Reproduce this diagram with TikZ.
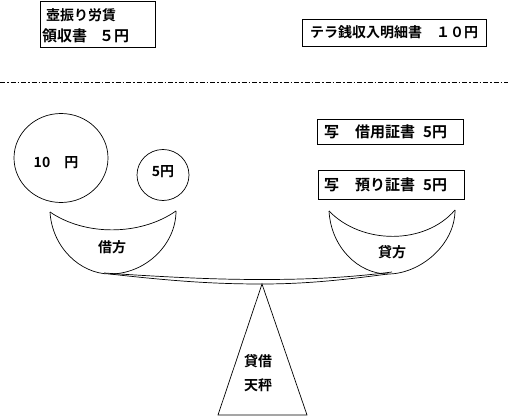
\documentclass[tikz,border=0pt]{standalone}
\usepackage{fontspec}
\newfontfamily\jp{Noto Sans CJK JP}[BoldFont={Noto Sans CJK JP Bold}]
\usetikzlibrary{shapes.geometric}
\begin{document}
\begin{tikzpicture}[x=1pt,y=-1pt,
  every node/.style={font=\jp\bfseries\fontsize{14}{17}\selectfont, inner sep=0pt},
  frame/.style={draw=black, line width=0.8pt, rectangle, anchor=north west},
  txt/.style={anchor=west},
  bigtxt/.style={anchor=west, font=\jp\bfseries\fontsize{15}{18}\selectfont},
  coin/.style={draw=black, line width=0.7pt, ellipse},
  shape line/.style={draw=black, line width=0.7pt}
]
\useasboundingbox (0,0) rectangle (510,419);
\fill[white] (0,0) rectangle (510,419);

% boxes
\node[frame, minimum width=115pt, minimum height=46pt] (b1) at (40,1) {};
\node[txt] (t1a) at (46,15) {壺振り労賃};
\node[bigtxt] (t1b) at (42,36) {領収書\hspace{12pt}５円};

\node[frame, minimum width=184pt, minimum height=27pt] (b2) at (302,19) {};
\node[txt] (t2) at (310,32) {テラ銭収入明細書　１０円};

\node[frame, minimum width=146pt, minimum height=25pt] (b3) at (317,119) {};
\node[bigtxt] (t3) at (324,131.5) {写\hspace{16pt}借用証書\hspace{8pt}5円};

\node[frame, minimum width=146pt, minimum height=29pt] (b4) at (318,170) {};
\node[bigtxt] (t4) at (324,184.5) {写\hspace{16pt}預り証書\hspace{8pt}5円};

% dash-dot separator
\coordinate (sepL) at (0,82);
\coordinate (sepR) at (508,82);
\draw[line width=0.8pt, dash pattern=on 5pt off 2pt on 1.5pt off 2pt] (sepL) -- (sepR);

% coins
\node[coin, minimum width=94pt, minimum height=89pt] (c1) at (61,158) {};
\node (c1t) at (56,163) {10　円};
\node[coin, minimum width=52pt, minimum height=51pt] (c2) at (163,175) {};
\node (c2t) at (163,172) {5円};

% left pan
\coordinate (LA) at (50,212);
\coordinate (LB) at (176,211);
\coordinate (LBot) at (110,274);
\draw[shape line] (LA) .. controls (85,236) and (140,236) .. (LB);
\draw[shape line] (LA) .. controls (52,247) and (80,274) .. (LBot) .. controls (145,274) and (176,245) .. (LB);
\node (lt) at (112,247) {借方};

% right pan
\coordinate (RA) at (329,211);
\coordinate (RB) at (455,210);
\coordinate (RBot) at (388,274);
\draw[shape line] (RA) .. controls (362,245) and (425,245) .. (RB);
\draw[shape line] (RA) .. controls (331,247) and (358,274) .. (RBot) .. controls (420,274) and (455,245) .. (RB);
\node (rt) at (392,252) {貸方};

% beam
\coordinate (apex) at (262,284);
\draw[shape line] (104,273) .. controls (180,278) and (220,279.5) .. (262,279.5) .. controls (310,279.5) and (350,277.5) .. (392,272);
\draw[shape line] (LBot) .. controls (180,282) and (220,284) .. (apex) .. controls (310,284) and (350,279) .. (RBot);

% fulcrum
\coordinate (baseL) at (218,415);
\coordinate (baseR) at (307,415);
\draw[shape line] (apex) -- (baseL) -- (baseR) -- cycle;
\node (f1) at (258,361) {貸借};
\node (f2) at (258,385) {天秤};
\end{tikzpicture}
\end{document}
